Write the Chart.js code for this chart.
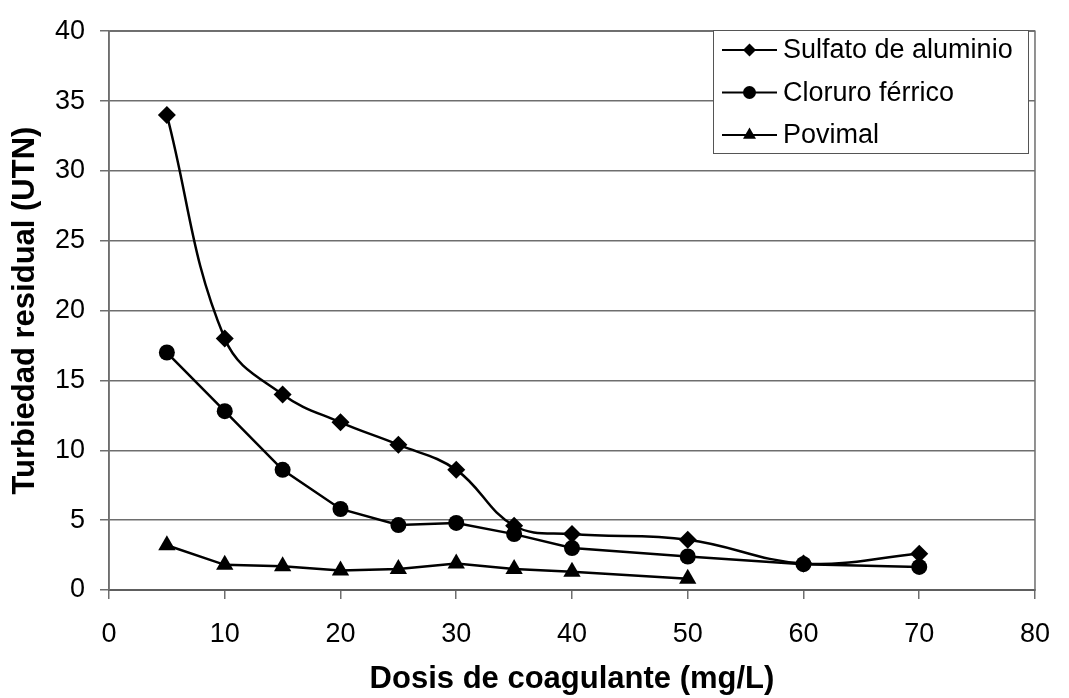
<!DOCTYPE html>
<html>
<head>
  <title>Turbiedad residual vs dosis de coagulante</title>
  <script src="https://cdn.jsdelivr.net/npm/chart.js@4"></script>
  <style>
    html, body { margin: 0; padding: 0; background: #fff; }
    #wrap { width: 1069px; height: 698px; }
  </style>
</head>
<body>
  <div id="wrap"><canvas id="turbChart" width="1069" height="698"></canvas></div>
  <script>
  // dosis (mg/L)
  const dosis = [5, 10, 15, 20, 25, 30, 35, 40, 50, 60, 70];
  const dosisPovimal = [5, 10, 15, 20, 25, 30, 35, 40, 50];

  // turbiedad residual (UTN)
  const sulfato = [34, 18, 14, 12, 10.4, 8.6, 4.6, 4.0, 3.6, 1.9, 2.6];
  const cloruro = [17, 12.8, 8.6, 5.8, 4.65, 4.8, 4.0, 3.0, 2.4, 1.85, 1.65];
  const povimal = [3.2, 1.8, 1.7, 1.4, 1.5, 1.9, 1.5, 1.3, 0.8];

  const seriesNames = ['Sulfato de aluminio', 'Cloruro férrico', 'Povimal'];

  const toPoints = (xs, ys) => xs.map((x, i) => ({ x: x, y: ys[i] }));

  const FONT = '"Liberation Sans", Arial, sans-serif';

  // box around the plot area
  const framePlugin = {
    id: 'frame',
    beforeDatasetsDraw(chart) {
      const { ctx, chartArea: a } = chart;
      ctx.save();
      ctx.strokeStyle = '#6e6e6e';
      ctx.lineWidth = 1.5;
      ctx.strokeRect(a.left, a.top, a.right - a.left, a.bottom - a.top);
      ctx.restore();
    }
  };

  // legend drawn inside the plot, top right
  const boxLegend = {
    id: 'boxLegend',
    afterDatasetsDraw(chart) {
      const ctx = chart.ctx;
      const x0 = 713, y0 = 30, w = 315, h = 123;
      ctx.save();
      ctx.fillStyle = '#fff';
      ctx.fillRect(x0, y0, w, h);
      ctx.strokeStyle = '#555';
      ctx.lineWidth = 1;
      ctx.strokeRect(x0 + 0.5, y0 + 0.5, w, h);
      ctx.font = '27px ' + FONT;
      ctx.textBaseline = 'middle';
      const rows = [50, 92.5, 135];
      chart.data.datasets.forEach((ds, i) => {
        const y = rows[i];
        ctx.strokeStyle = '#000';
        ctx.lineWidth = 2;
        ctx.beginPath();
        ctx.moveTo(722, y);
        ctx.lineTo(777, y);
        ctx.stroke();
        ctx.fillStyle = '#000';
        Chart.helpers.drawPoint(ctx, {
          pointStyle: ds.pointStyle,
          radius: ds.pointStyle === 'triangle' ? 7.5 : 6.5,
          rotation: 0,
          borderWidth: 0
        }, 749.5, y);
        ctx.fillStyle = '#000';
        ctx.fillText(ds.label, 783, y + 1);
      });
      ctx.restore();
    }
  };

  const common = {
    borderColor: '#000',
    backgroundColor: '#000',
    borderWidth: 2.5,
    pointBorderWidth: 0
  };

  new Chart(document.getElementById('turbChart'), {
    type: 'line',
    data: {
      datasets: [
        Object.assign({ label: seriesNames[0], data: toPoints(dosis, sulfato),
          pointStyle: 'rectRot', pointRadius: 9, tension: 0.4 }, common),
        Object.assign({ label: seriesNames[1], data: toPoints(dosis, cloruro),
          pointStyle: 'circle', pointRadius: 8, tension: 0 }, common),
        Object.assign({ label: seriesNames[2], data: toPoints(dosisPovimal, povimal),
          pointStyle: 'triangle', pointRadius: 10, tension: 0 }, common)
      ]
    },
    options: {
      responsive: false,
      animation: false,
      layout: { padding: { left: 0, right: 23, top: 24, bottom: 0 } },
      plugins: {
        legend: { display: false },
        tooltip: { enabled: false }
      },
      scales: {
        x: {
          type: 'linear',
          min: 0, max: 80,
          ticks: { stepSize: 10, color: '#000', padding: 19,
            font: { family: FONT, size: 27 } },
          grid: { drawOnChartArea: false, drawTicks: true, tickLength: 9, color: '#6e6e6e', lineWidth: 1.5 },
          border: { color: '#333', width: 2 },
          title: { display: true, text: 'Dosis de coagulante (mg/L)', color: '#000',
            padding: { top: 0, bottom: 0 },
            font: { family: FONT, size: 31, weight: 'bold' } },
          afterFit(scale) { scale.height = 108; }
        },
        y: {
          min: 0, max: 40,
          ticks: { stepSize: 5, color: '#000', padding: 15,
            font: { family: FONT, size: 27 } },
          grid: { color: '#6e6e6e', lineWidth: 1.5, tickLength: 9 },
          border: { color: '#6e6e6e', width: 1.5 },
          title: { display: true, text: 'Turbiedad residual (UTN)', color: '#000',
            padding: { top: 7, bottom: 0 },
            font: { family: FONT, size: 31, weight: 'bold' } },
          afterFit(scale) { scale.width = 109; }
        }
      }
    },
    plugins: [framePlugin, boxLegend]
  });
  </script>
</body>
</html>
